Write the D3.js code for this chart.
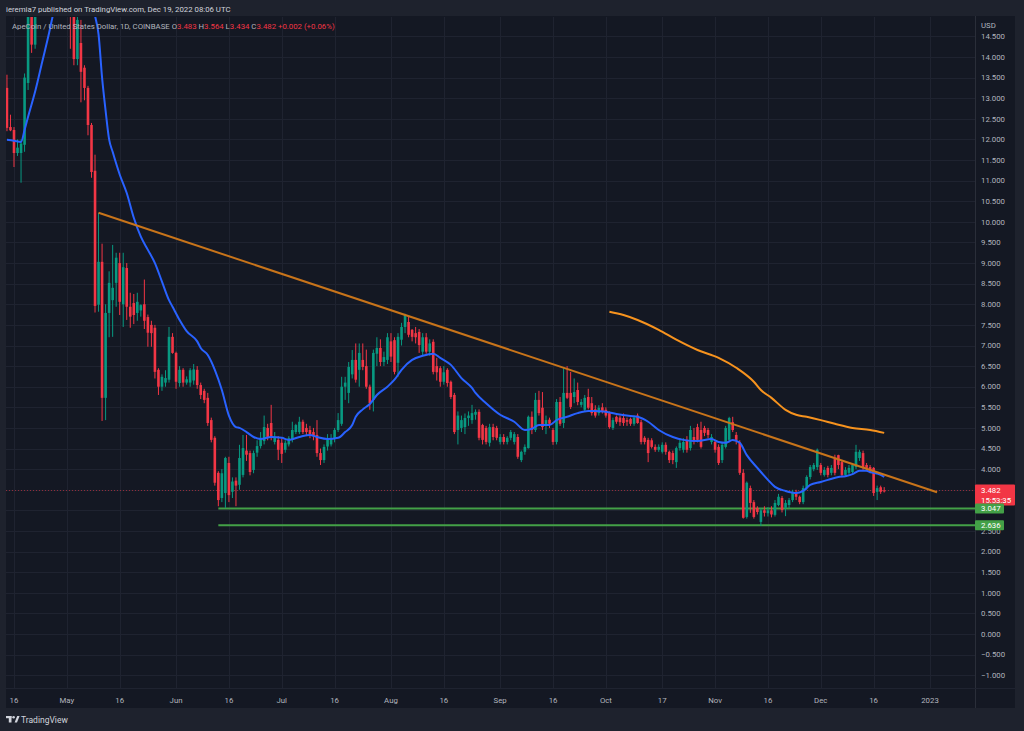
<!DOCTYPE html>
<html><head><meta charset="utf-8">
<script src="https://cdn.jsdelivr.net/npm/d3@7"></script>
<style>html,body{margin:0;padding:0;background:#1e222d;}svg{display:block;font-family:Roboto,"Noto Sans",sans-serif;}</style>
</head><body><svg id="c" width="1024" height="731"></svg>
<script>
// ---------- DATA ----------
const startDate = "2022-04-14"; // one daily candle per day from here
const opens = [
 13.25,12.3,12.23,11.67,11.67,11.87,13.37,15.3,14.3,15.5,16.5,17.2,18.5,17.5,20.5,22.5,19.5,
 17.5,16.0,15.1,13.95,14.34,13.74,13.25,12.35,11.24,7.99,9.03,5.73,7.79,8.1,8.52,9.0,8.0,8.88,7.94,8.03,7.79,7.85,8.0,7.69,7.5,7.43,6.41,6.0,6.1,6.17,7.21,
 6.82,6.09,6.41,6.1,6.1,6.15,6.41,6.04,5.9,5.73,5.19,4.76,3.91,3.3,3.42,4.15,3.45,3.72,3.62,3.86,4.45,4.39,3.98,4.4,4.56,4.68,5.0,5.12,4.66,4.71,
 4.64,4.47,4.6,4.71,4.9,4.9,5.15,5.0,4.95,4.9,4.83,4.39,4.22,4.55,4.6,4.73,4.95,5.1,6.0,5.85,6.3,6.65,6.41,6.65,6.5,6.0,5.68,6.8,6.94,6.6,6.65,
 7.1,7.13,6.58,7.14,7.45,7.57,7.38,7.3,7.33,6.85,7.2,6.85,7.09,6.5,6.45,6.12,6.41,6.12,5.8,4.95,5.0,5.02,5.24,5.19,5.32,5.39,5.07,5.0,4.64,5.02,5.0,
 4.66,4.78,4.66,4.76,4.66,4.78,4.22,4.42,4.51,5.27,4.95,5.68,5.49,5.07,5.2,4.95,4.66,5.63,5.12,5.85,5.85,5.75,5.92,5.56,5.44,5.75,5.6,5.45,5.36,5.5,
 5.44,5.36,5.0,5.27,5.25,5.24,5.19,5.22,5.1,5.3,5.14,4.76,4.71,4.7,4.54,4.47,4.42,4.59,4.42,4.39,4.17,4.51,4.47,4.71,4.51,4.78,5.02,4.95,5.0,4.95,4.66,
 4.66,4.54,4.22,4.54,4.71,5.14,4.83,4.64,3.91,2.84,3.54,3.2,3.06,2.72,3.0,2.93,3.0,2.89,3.13,3.3,3.06,3.13,3.25,3.45,3.33,3.2,3.54,3.81,4.0,4.05,
 4.1,3.86,4.03,3.91,4.25,4.34,4.17,3.86,3.91,3.93,4.05,4.27,4.39,4.1,4.05,4.03,3.45,3.56,3.483
];
const highs = [
 13.57,12.6,12.3,12.0,12.0,13.6,16.0,16.2,16.0,17.0,18.0,19.0,19.5,21.0,27.0,23.0,21.0,
 18.5,17.0,15.3,15.1,14.9,13.8,13.3,12.4,11.63,10.22,9.47,8.0,8.8,9.44,9.25,9.25,9.25,9.0,8.28,8.25,8.28,8.0,8.6,7.75,7.6,7.5,6.45,6.3,6.4,7.45,7.3,
 6.85,6.5,6.45,6.25,6.45,6.55,6.5,6.1,5.95,5.85,5.25,4.8,3.95,4.0,4.3,4.3,3.8,3.8,4.59,4.83,4.83,4.45,4.45,4.7,4.9,5.3,5.1,5.56,4.9,4.8,
 4.75,4.7,4.8,5.15,5.1,5.27,5.2,5.1,5.05,5.0,5.19,4.5,4.6,4.85,4.85,5.0,5.36,6.24,6.24,6.6,6.89,7.05,7.05,7.05,6.9,6.05,6.9,7.2,7.15,6.85,7.3,
 7.3,7.2,7.3,7.55,7.77,7.7,7.4,7.45,7.4,7.3,7.3,7.15,7.15,6.7,6.5,6.5,6.45,6.15,5.85,5.4,5.3,5.35,5.4,5.56,5.45,5.45,5.1,5.05,5.1,5.1,5.05,
 4.85,4.85,4.8,4.95,4.9,4.85,4.45,4.6,5.3,5.4,5.85,5.9,5.87,5.3,5.25,5.0,5.7,5.75,6.45,6.5,6.36,6.2,6.1,5.7,5.8,5.95,5.75,5.55,5.55,5.6,
 5.5,5.4,5.25,5.3,5.3,5.35,5.25,5.25,5.3,5.35,5.2,4.8,4.76,4.75,4.6,4.6,4.65,4.65,4.45,4.45,4.55,4.75,4.75,4.8,5.05,5.0,5.1,5.15,5.05,5.0,4.85,
 4.7,4.6,4.65,5.05,5.27,5.27,4.9,4.7,4.0,3.7,3.6,3.25,3.1,3.05,3.1,3.08,3.1,3.25,3.4,3.35,3.25,3.3,3.5,3.5,3.36,3.6,3.85,4.1,4.15,4.5,
 4.15,4.05,4.08,4.1,4.35,4.35,4.2,4.05,4.1,4.15,4.59,4.47,4.45,4.15,4.1,4.05,3.6,3.6,3.564
];
const lows = [
 12.2,12.2,11.33,11.6,10.95,11.7,13.2,14.1,14.2,15.0,15.8,16.0,17.0,17.0,20.0,19.0,17.0,
 15.5,14.2,13.8,13.8,12.9,12.95,12.1,11.07,7.8,7.82,5.17,5.19,7.2,7.21,7.94,7.74,7.45,7.62,7.43,7.52,7.6,7.7,7.4,6.97,6.97,6.2,5.8,5.9,6.0,6.1,6.8,
 5.95,6.0,6.0,6.05,6.0,6.05,5.95,5.7,5.6,5.05,4.65,3.6,3.1,3.2,3.06,3.2,3.3,3.1,3.5,3.8,4.2,3.85,3.9,4.3,4.5,4.6,4.7,4.7,4.6,4.22,
 4.15,4.4,4.55,4.65,4.85,4.85,4.85,4.8,4.75,4.7,4.3,4.1,4.15,4.45,4.55,4.65,4.9,5.05,5.68,5.6,6.2,6.1,6.0,6.4,5.95,5.44,5.4,6.5,6.5,6.5,6.55,
 6.6,6.3,6.24,7.0,7.3,7.2,7.1,7.05,6.82,6.75,6.8,6.75,6.3,6.15,6.0,6.05,6.0,5.7,4.85,4.6,4.9,4.85,5.05,5.1,5.2,4.7,4.6,4.6,4.55,4.7,4.7,
 4.6,4.6,4.6,4.7,4.6,4.25,4.17,4.35,4.5,4.85,4.9,5.3,4.95,4.85,5.0,4.59,4.6,5.05,5.0,5.7,5.46,5.6,5.55,5.5,5.4,5.45,5.3,5.25,5.3,5.35,
 5.25,4.98,4.95,5.1,5.05,5.05,5.05,5.05,5.05,5.1,4.6,4.6,4.17,4.5,4.42,4.42,4.38,4.35,4.15,4.12,4.03,4.45,4.4,4.4,4.45,4.6,4.65,4.5,4.8,4.75,4.6,
 4.4,4.1,4.15,4.5,4.65,4.9,4.6,3.86,2.8,2.8,2.94,2.8,2.9,2.62,2.85,2.85,2.83,2.85,3.1,2.95,2.86,3.05,3.2,3.25,3.15,3.15,3.5,3.75,3.95,3.98,
 3.85,3.82,3.8,3.85,3.85,4.0,3.8,3.82,3.86,3.9,4.0,4.2,3.98,3.95,3.9,3.35,3.25,3.4,3.434
];
const closes = [
 12.28,12.22,11.67,11.8,11.9,13.5,15.4,14.3,15.5,16.5,17.2,18.5,17.5,20.5,22.5,19.5,17.5,
 16.0,15.1,13.95,14.9,13.64,13.25,12.35,11.21,7.96,9.03,5.73,7.79,8.52,8.4,9.13,8.06,8.9,7.94,7.7,7.74,8.06,7.98,7.6,7.31,7.3,6.36,6.0,6.24,6.21,7.21,6.82,
 6.12,6.41,6.1,6.18,6.4,6.42,6.04,5.8,5.68,5.12,4.71,3.67,3.25,3.9,4.27,3.37,3.7,3.6,4.27,4.51,4.35,3.93,4.39,4.56,4.76,5.02,4.78,4.78,4.78,4.47,
 4.37,4.64,4.75,4.95,5.07,5.15,4.9,4.9,4.85,4.8,4.39,4.22,4.54,4.73,4.75,4.95,5.19,6.0,6.1,6.48,6.65,6.17,6.82,6.48,6.0,5.6,6.82,6.94,6.6,6.72,7.2,
 6.73,6.36,7.21,7.45,7.74,7.26,7.21,7.2,7.01,7.2,6.85,7.05,6.36,6.35,6.12,6.35,6.09,5.75,4.9,5.3,5.19,5.24,5.3,5.36,5.39,4.76,4.71,4.66,5.02,4.78,4.76,
 4.78,4.66,4.76,4.9,4.85,4.3,4.42,4.54,5.27,4.95,5.68,5.36,5.02,5.19,5.1,4.66,5.63,5.1,5.85,5.73,5.51,5.87,5.63,5.63,5.73,5.49,5.36,5.3,5.49,5.4,
 5.3,5.02,5.19,5.15,5.14,5.12,5.15,5.1,5.25,5.12,4.66,4.66,4.39,4.54,4.47,4.54,4.59,4.42,4.22,4.22,4.51,4.64,4.66,4.47,4.95,4.66,4.71,4.54,4.88,4.83,4.78,
 4.47,4.15,4.59,5.0,5.24,4.95,4.71,3.91,2.82,3.67,3.18,2.84,2.96,3.0,2.94,3.0,2.9,3.18,3.33,3.01,3.18,3.25,3.45,3.33,3.2,3.54,3.81,4.05,4.1,4.47,
 3.91,3.98,3.86,4.03,3.91,4.1,3.86,3.98,4.03,4.1,4.42,4.42,4.03,4.03,3.98,3.42,3.54,3.45,3.482
];
const changeText = "+0.002 (+0.06%)";
// 20-period moving average (blue)
const maDates = ["2022-04-14","2022-04-16","2022-04-18","2022-04-19","2022-04-20","2022-04-22","2022-04-24","2022-04-26","2022-04-27","2022-04-29","2022-05-01","2022-05-03","2022-05-05","2022-05-07","2022-05-09","2022-05-10","2022-05-11","2022-05-12","2022-05-13","2022-05-14","2022-05-16","2022-05-18","2022-05-20","2022-05-22","2022-05-24","2022-05-26","2022-05-28","2022-05-30","2022-05-31","2022-06-02","2022-06-04","2022-06-07","2022-06-08","2022-06-10","2022-06-12","2022-06-14","2022-06-16","2022-06-18","2022-06-19","2022-06-21","2022-06-23","2022-06-25","2022-06-28","2022-07-01","2022-07-03","2022-07-06","2022-07-09","2022-07-11","2022-07-14","2022-07-17","2022-07-19","2022-07-21","2022-07-22","2022-07-24","2022-07-26","2022-07-28","2022-07-31","2022-08-02","2022-08-04","2022-08-07","2022-08-10","2022-08-13","2022-08-15","2022-08-18","2022-08-21","2022-08-24","2022-08-25","2022-08-28","2022-09-01","2022-09-05","2022-09-08","2022-09-10","2022-09-12","2022-09-15","2022-09-17","2022-09-20","2022-09-23","2022-09-26","2022-09-28","2022-10-01","2022-10-04","2022-10-08","2022-10-10","2022-10-13","2022-10-16","2022-10-20","2022-10-23","2022-10-27","2022-10-31","2022-11-02","2022-11-04","2022-11-06","2022-11-08","2022-11-10","2022-11-13","2022-11-16","2022-11-18","2022-11-21","2022-11-24","2022-11-26","2022-11-28","2022-12-01","2022-12-03","2022-12-06","2022-12-08","2022-12-10","2022-12-12","2022-12-14","2022-12-15","2022-12-18","2022-12-19"];
const maValues = [11.99,11.97,11.94,12.23,12.55,13.16,13.88,14.6,15.0,15.8,16.4,16.7,16.5,15.8,15.0,14.55,13.5,12.7,12.0,11.7,11.15,10.7,10.1,9.64,9.32,9.0,8.55,8.1,7.94,7.62,7.35,7.1,6.94,6.77,6.41,5.92,5.3,5.02,5.0,4.9,4.78,4.73,4.78,4.76,4.71,4.78,4.83,4.78,4.73,4.76,4.9,5.07,5.27,5.45,5.58,5.8,6.0,6.17,6.41,6.65,6.75,6.8,6.7,6.53,6.21,5.97,5.85,5.6,5.32,5.15,4.95,4.98,5.07,5.07,5.19,5.27,5.36,5.41,5.41,5.39,5.34,5.29,5.27,5.15,4.95,4.78,4.71,4.68,4.73,4.66,4.64,4.71,4.64,4.34,4.03,3.74,3.57,3.47,3.42,3.47,3.62,3.69,3.74,3.81,3.83,3.88,3.96,3.96,3.93,3.86,3.81];
// 200-period moving average (orange)
const ma200Dates = ["2022-10-02","2022-10-06","2022-10-10","2022-10-16","2022-10-21","2022-10-27","2022-11-02","2022-11-07","2022-11-12","2022-11-14","2022-11-17","2022-11-21","2022-11-24","2022-11-27","2022-12-01","2022-12-05","2022-12-10","2022-12-15","2022-12-19"];
const ma200Values = [7.82,7.74,7.62,7.38,7.14,6.89,6.7,6.46,6.12,5.92,5.73,5.44,5.32,5.27,5.19,5.1,5.0,4.95,4.88];
// drawn trend line and support levels
const trendDates = ["2022-05-10","2023-01-03"];
const trendValues = [10.22,3.44];
const supportLevels = [3.047,2.636];
const supportStart = "2022-06-13";
const lastPrice = 3.482;
const countdown = "15:53:35";
const yTicks = d3.range(-1, 14.5001, 0.5);
const xTickDates = ["2022-04-16","2022-05-01","2022-05-16","2022-06-01","2022-06-16","2022-07-01","2022-07-16","2022-08-01","2022-08-16","2022-09-01","2022-09-16","2022-10-01","2022-10-17","2022-11-01","2022-11-16","2022-12-01","2022-12-16","2023-01-01"];
const xTickLabels = ["16","May","16","Jun","16","Jul","16","Aug","16","Sep","16","Oct","17","Nov","16","Dec","16","2023"];

// ---------- DRAW ----------
const parse = d3.utcParse("%Y-%m-%d");
const up = "#089981", down = "#f23645";
const svg = d3.select("#c");
const paneL = 6, paneR = 975, paneT = 17, paneB = 688, frameR = 1015, frameB = 708;
const fs = "7.8px";

const x = d3.scaleUtc().domain([parse("2022-04-16"), parse("2023-01-01")]).range([14, 930]);
const y = d3.scaleLinear().domain([0, 14]).range([634, 57]);

svg.append("rect").attr("width",1024).attr("height",731).attr("fill","#1e222d");
svg.append("rect").attr("x",paneL).attr("y",16).attr("width",frameR-paneL).attr("height",frameB-16).attr("fill","#141823");
svg.append("defs").append("clipPath").attr("id","clip").append("rect")
  .attr("x",paneL).attr("y",paneT).attr("width",paneR-paneL).attr("height",paneB-paneT);

// grid
const grid = svg.append("g").attr("clip-path","url(#clip)");
grid.selectAll("line.h").data(yTicks).join("line")
  .attr("x1",paneL).attr("x2",paneR).attr("y1",d=>Math.round(y(d))+0.5).attr("y2",d=>Math.round(y(d))+0.5)
  .attr("stroke","#1f2330").attr("stroke-width",1);
grid.selectAll("line.v").data(xTickDates).join("line")
  .attr("x1",d=>Math.round(x(parse(d)))+0.5).attr("x2",d=>Math.round(x(parse(d)))+0.5).attr("y1",paneT).attr("y2",paneB)
  .attr("stroke","#1f2330").attr("stroke-width",1);

const plot = svg.append("g").attr("clip-path","url(#clip)");
// last price dotted line
plot.append("line").attr("x1",paneL).attr("x2",paneR).attr("y1",y(lastPrice)).attr("y2",y(lastPrice))
  .attr("stroke","#f23645").attr("stroke-opacity",0.55).attr("stroke-width",1).attr("stroke-dasharray","1,2");
// support lines
plot.selectAll("line.sup").data(supportLevels).join("line")
  .attr("x1",x(parse(supportStart))).attr("x2",paneR).attr("y1",d=>y(d)).attr("y2",d=>y(d))
  .attr("stroke","#43a047").attr("stroke-width",2);

// candles
const start = parse(startDate);
const candles = opens.map((o,i)=>({d:d3.utcDay.offset(start,i), o, h:highs[i], l:lows[i], c:closes[i]}));
plot.selectAll("line.wick").data(candles).join("line")
  .attr("x1",d=>x(d.d)).attr("x2",d=>x(d.d)).attr("y1",d=>y(d.h)).attr("y2",d=>y(d.l))
  .attr("stroke",d=>d.c>=d.o?up:down).attr("stroke-width",1);
plot.selectAll("rect.body").data(candles).join("rect")
  .attr("x",d=>x(d.d)-1.3).attr("width",2.6)
  .attr("y",d=>y(Math.max(d.o,d.c))).attr("height",d=>Math.max(1,Math.abs(y(d.o)-y(d.c))))
  .attr("fill",d=>d.c>=d.o?up:down);

// moving averages
const lineGen = d3.line().x(d=>x(d[0])).y(d=>y(d[1])).curve(d3.curveMonotoneX);
plot.append("path").datum(maDates.map((d,i)=>[parse(d),maValues[i]]))
  .attr("d",lineGen).attr("fill","none").attr("stroke","#2962ff").attr("stroke-width",2);
plot.append("path").datum(ma200Dates.map((d,i)=>[parse(d),ma200Values[i]]))
  .attr("d",lineGen).attr("fill","none").attr("stroke","#f7931e").attr("stroke-width",2);
// trend line
plot.append("path").datum(trendDates.map((d,i)=>[parse(d),trendValues[i]]))
  .attr("d",d3.line().x(d=>x(d[0])).y(d=>y(d[1]))).attr("fill","none").attr("stroke","#c8741a").attr("stroke-width",2);

// price axis
const axisCol = "#b2b5be";
svg.append("line").attr("x1",paneR+0.5).attr("x2",paneR+0.5).attr("y1",16).attr("y2",frameB).attr("stroke","#2a2e39");
svg.append("line").attr("x1",paneL).attr("x2",frameR).attr("y1",paneB+0.5).attr("y2",paneB+0.5).attr("stroke","#1f2330");
svg.selectAll("text.yt").data(yTicks).join("text")
  .attr("x",981).attr("y",d=>y(d)).attr("dy","0.35em").attr("fill",axisCol).attr("font-size",fs)
  .text(d=>d3.format(".3f")(d));
svg.append("rect").attr("x",977).attr("y",19).attr("width",30).attr("height",11).attr("fill","#141823");
svg.append("text").attr("x",981).attr("y",25).attr("dy","0.35em").attr("fill",axisCol).attr("font-size",fs).text("USD");

// price labels
const lbl = svg.append("g");
lbl.append("rect").attr("x",paneR).attr("y",y(lastPrice)-6).attr("width",40).attr("height",21).attr("fill","#f23645").attr("rx",1);
lbl.append("text").attr("x",981).attr("y",y(lastPrice)).attr("dy","0.35em").attr("fill","#fff").attr("font-size",fs).text(d3.format(".3f")(lastPrice));
lbl.append("text").attr("x",981).attr("y",y(lastPrice)+10).attr("dy","0.35em").attr("fill","#fff").attr("font-size",fs).text(countdown);
supportLevels.forEach(v=>{
  lbl.append("rect").attr("x",paneR).attr("y",y(v)-5).attr("width",29).attr("height",10).attr("fill","#43a047").attr("rx",1);
  lbl.append("text").attr("x",981).attr("y",y(v)).attr("dy","0.35em").attr("fill","#fff").attr("font-size",fs).text(d3.format(".3f")(v));
});

// time axis
svg.selectAll("text.xt").data(xTickDates).join("text")
  .attr("x",(d)=>x(parse(d))).attr("y",703).attr("text-anchor","middle").attr("fill",axisCol).attr("font-size",fs)
  .text((d,i)=>xTickLabels[i]);

// header & legend
svg.append("text").attr("x",6).attr("y",11.5).attr("fill","#d1d4dc").attr("font-size","7.8px")
  .text("ieremia7 published on TradingView.com, Dec 19, 2022 08:06 UTC");
const leg = svg.append("text").attr("x",12).attr("y",29).attr("font-size","7.8px").attr("fill","#b2b5be");
leg.append("tspan").text("ApeCoin / United States Dollar, 1D, COINBASE  ");
const ohlc = [["O",opens],["H",highs],["L",lows],["C",closes]];
ohlc.forEach(([k,arr])=>{
  leg.append("tspan").attr("fill","#b2b5be").text(" "+k);
  leg.append("tspan").attr("fill","#f23645").text(d3.format(".3f")(arr[arr.length-1]));
});
leg.append("tspan").attr("fill","#f23645").text("  "+changeText);

// footer logo
const logo = svg.append("g").attr("fill","#d1d4dc");
logo.append("rect").attr("x",6).attr("y",716).attr("width",5.5).attr("height",2.2);
logo.append("rect").attr("x",8.8).attr("y",716).attr("width",2.7).attr("height",6.5);
logo.append("circle").attr("cx",13.6).attr("cy",717.2).attr("r",1.3);
logo.append("path").attr("d","M14.6,722.5 L17.2,716 L19.6,716 L17,722.5 Z");
svg.append("text").attr("x",21).attr("y",722.5).attr("fill","#d1d4dc").attr("font-size","8.5px").text("TradingView");
</script></body></html>
